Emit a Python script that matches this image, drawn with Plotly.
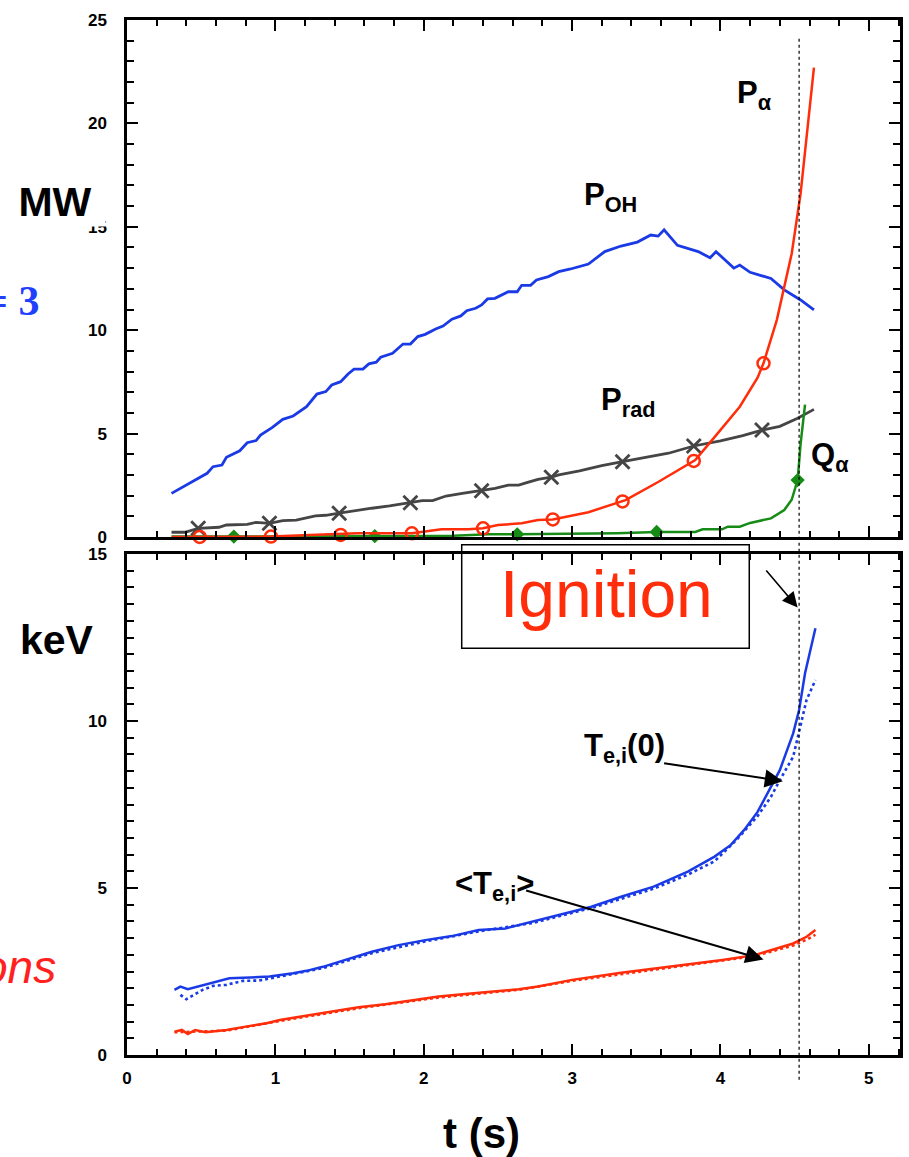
import plotly.graph_objects as go

# ---------------- data ----------------
# Top panel: powers (MW) vs t (s)
t_poh = [0.30,0.42,0.54,0.58,0.64,0.67,0.76,0.81,0.87,0.90,0.98,1.05,1.12,1.21,1.28,1.34,1.38,1.44,1.49,1.53,
         1.59,1.63,1.68,1.71,1.79,1.86,1.91,1.96,2.01,2.08,2.13,2.19,2.25,2.29,2.35,2.39,2.43,2.48,2.57,2.63,
         2.66,2.72,2.76,2.84,2.91,2.99,3.11,3.22,3.33,3.44,3.53,3.58,3.62,3.71,3.85,3.93,3.97,4.00,4.09,4.13,
         4.20,4.34,4.43,4.54,4.63]
p_oh = [2.11,2.60,3.08,3.40,3.48,3.85,4.17,4.56,4.66,4.93,5.30,5.69,5.85,6.30,6.91,7.03,7.35,7.51,7.88,8.12,
        8.12,8.37,8.45,8.69,8.88,9.33,9.33,9.69,9.80,10.06,10.20,10.53,10.69,10.94,11.06,11.22,11.51,11.54,11.86,11.86,
        12.17,12.17,12.43,12.59,12.83,12.96,13.20,13.80,14.07,14.26,14.60,14.55,14.85,14.10,13.80,13.50,13.80,13.60,13.00,13.15,
        12.80,12.50,11.95,11.46,10.98]

t_palpha = [0.30,0.97,1.41,1.56,1.92,2.12,2.30,2.40,2.50,2.66,2.77,2.87,3.11,3.36,3.58,3.83,3.96,4.13,4.25,4.29,
            4.38,4.43,4.48,4.54,4.58,4.63]
p_alpha = [0.0,0.02,0.15,0.18,0.18,0.37,0.37,0.42,0.58,0.66,0.82,0.85,1.2,1.78,2.66,3.72,4.83,6.3,7.7,8.4,
           10.5,12.1,13.7,16.6,19.3,22.7]
t_palpha_mk = [0.49,0.97,1.44,1.92,2.40,2.87,3.34,3.82,4.29]
p_alpha_mk = [0.0,0.02,0.1,0.18,0.42,0.85,1.72,3.68,8.4]

t_prad = [0.30,0.39,0.48,0.62,0.67,0.81,0.87,0.96,1.05,1.14,1.27,1.34,1.43,1.52,1.65,1.77,1.91,1.99,2.06,2.15,
          2.26,2.39,2.48,2.57,2.64,2.70,2.77,2.86,2.91,3.05,3.20,3.34,3.50,3.65,3.82,4.00,4.15,4.28,4.40,4.52,4.63]
p_rad = [0.23,0.23,0.42,0.47,0.58,0.61,0.71,0.66,0.79,0.82,1.02,1.05,1.15,1.26,1.39,1.50,1.66,1.76,1.76,1.98,
         2.11,2.24,2.35,2.51,2.51,2.64,2.79,2.89,3.0,3.2,3.45,3.64,3.85,4.05,4.40,4.65,4.90,5.17,5.35,5.74,6.17]
t_prad_mk = [0.48,0.96,1.43,1.91,2.39,2.86,3.34,3.82,4.28]
p_rad_mk = [0.42,0.66,1.15,1.66,2.24,2.89,3.64,4.40,5.17]

t_qalpha = [0.30,1.0,1.67,2.20,2.44,2.63,3.00,3.30,3.57,3.83,3.88,4.01,4.05,4.13,4.20,4.34,4.43,4.48,4.52,4.54,4.57]
q_alpha = [0.02,0.02,0.04,0.06,0.13,0.13,0.15,0.18,0.24,0.24,0.37,0.37,0.5,0.5,0.68,0.9,1.3,1.8,2.75,4.5,6.4]
t_qalpha_mk = [0.72,1.67,2.63,3.57,4.52]
q_alpha_mk = [0.02,0.04,0.13,0.24,2.75]

# Bottom panel: temperatures (keV) vs t (s)
t_te0 = [0.32,0.36,0.41,0.56,0.69,0.83,0.96,1.12,1.21,1.32,1.47,1.65,1.83,2.01,2.19,2.37,2.55,2.73,2.91,3.13,
         3.33,3.55,3.78,3.96,4.07,4.16,4.25,4.34,4.40,4.49,4.53,4.57,4.64]
te0 = [1.95,2.05,1.97,2.15,2.30,2.32,2.35,2.45,2.52,2.64,2.84,3.09,3.29,3.44,3.56,3.74,3.79,3.99,4.19,4.44,
       4.74,5.04,5.49,5.94,6.29,6.74,7.28,8.03,8.53,9.63,10.33,11.43,12.78]
t_ti0 = [0.36,0.40,0.51,0.58,0.67,0.78,0.89,1.12,1.32,1.65,2.01,2.37,2.73,3.13,3.55,3.78,3.96,4.11,4.25,4.34,
         4.40,4.49,4.54,4.58,4.64]
ti0 = [1.80,1.67,1.95,2.07,2.10,2.22,2.23,2.42,2.60,3.05,3.40,3.70,3.95,4.40,4.98,5.40,5.80,6.45,7.15,7.73,
       8.23,8.93,9.83,10.63,11.23]
t_teavg = [0.32,0.37,0.41,0.46,0.53,0.67,0.80,0.94,1.03,1.21,1.38,1.56,1.74,1.92,2.10,2.28,2.46,2.64,2.77,3.00,
           3.33,3.67,4.00,4.23,4.38,4.49,4.58,4.64]
teavg = [0.70,0.75,0.63,0.75,0.68,0.75,0.85,0.95,1.05,1.18,1.28,1.43,1.52,1.63,1.75,1.83,1.90,1.97,2.05,2.25,
         2.46,2.65,2.84,2.99,3.19,3.34,3.54,3.74]
t_tiavg = [0.32,0.67,1.03,1.56,2.10,2.64,3.00,3.67,4.23,4.49,4.58,4.64]
tiavg = [0.68,0.73,1.02,1.40,1.72,1.95,2.22,2.62,2.96,3.28,3.45,3.60]

t_ignition = 4.53
x_ticks = [0, 1, 2, 3, 4, 5]

# ---------------- styles ----------------
BLUE = "#1a3ae6"
RED = "#ff2d0a"
GRAY = "#454545"
GREEN = "#168c16"
FONT = "Liberation Sans"

fig = go.Figure()

# top panel traces
fig.add_trace(go.Scatter(x=t_poh, y=p_oh, mode="lines", line=dict(color=BLUE, width=2.8),
                         xaxis="x2", yaxis="y2"))
fig.add_trace(go.Scatter(x=t_prad, y=p_rad, mode="lines", line=dict(color=GRAY, width=2.8),
                         xaxis="x2", yaxis="y2"))
fig.add_trace(go.Scatter(x=t_prad_mk, y=p_rad_mk, mode="markers", cliponaxis=False,
                         marker=dict(symbol="x-thin-open", size=14, color=GRAY, line=dict(color=GRAY, width=2.8)),
                         xaxis="x2", yaxis="y2"))
fig.add_trace(go.Scatter(x=t_qalpha, y=q_alpha, mode="lines", line=dict(color=GREEN, width=2.5),
                         xaxis="x2", yaxis="y2"))
fig.add_trace(go.Scatter(x=t_qalpha_mk, y=q_alpha_mk, mode="markers", cliponaxis=False,
                         marker=dict(symbol="diamond", size=11, color=GREEN),
                         xaxis="x2", yaxis="y2"))
fig.add_trace(go.Scatter(x=t_palpha, y=p_alpha, mode="lines", line=dict(color=RED, width=2.5),
                         xaxis="x2", yaxis="y2"))
fig.add_trace(go.Scatter(x=t_palpha_mk, y=p_alpha_mk, mode="markers", cliponaxis=False,
                         marker=dict(symbol="circle-open", size=12, color=RED, line=dict(color=RED, width=2.5)),
                         xaxis="x2", yaxis="y2"))

# bottom panel traces
fig.add_trace(go.Scatter(x=t_tiavg, y=tiavg, mode="lines", line=dict(color=RED, width=2.5, dash="dot"),
                         xaxis="x", yaxis="y"))
fig.add_trace(go.Scatter(x=t_teavg, y=teavg, mode="lines", line=dict(color=RED, width=2.5),
                         xaxis="x", yaxis="y"))
fig.add_trace(go.Scatter(x=t_ti0, y=ti0, mode="lines", line=dict(color=BLUE, width=2.6, dash="dot"),
                         xaxis="x", yaxis="y"))
fig.add_trace(go.Scatter(x=t_te0, y=te0, mode="lines", line=dict(color=BLUE, width=2.5),
                         xaxis="x", yaxis="y"))

axis_common = dict(
    showline=True, linewidth=2.5, linecolor="black", mirror="ticks",
    ticks="inside", ticklen=11, tickwidth=2, tickcolor="black",
    showgrid=False, zeroline=False,
    tickfont=dict(family=FONT, size=17, color="black", weight="bold"),
)

fig.update_layout(
    width=909, height=1157,
    margin=dict(l=127, r=6, t=20, b=102),
    paper_bgcolor="white", plot_bgcolor="white",
    showlegend=False,
    font=dict(family=FONT, color="black"),
    xaxis=dict(domain=[0, 1], anchor="y", range=[0, 5.21], tickvals=x_ticks,
               minor=dict(dtick=0.2, ticks="inside", ticklen=6, tickwidth=1.5, tickcolor="black"),
               ticklabelstandoff=6, **axis_common),
    yaxis=dict(domain=[0, 0.484], anchor="x", range=[0, 15], dtick=5,
               minor=dict(dtick=0.5, ticks="inside", ticklen=7, tickwidth=1.5, tickcolor="black"),
               ticklabelstandoff=14, **axis_common),
    xaxis2=dict(domain=[0, 1], anchor="y2", range=[0, 5.21], tickvals=x_ticks, showticklabels=False,
                minor=dict(dtick=0.2, ticks="inside", ticklen=6, tickwidth=1.5, tickcolor="black"),
                **axis_common),
    yaxis2=dict(domain=[0.5005, 1], anchor="x2", range=[0, 25], dtick=5,
                minor=dict(dtick=1, ticks="inside", ticklen=7, tickwidth=1.5, tickcolor="black"),
                ticklabelstandoff=14, **axis_common),
)

# ignition dotted line across both panels
fig.add_shape(type="line", xref="x", yref="paper", x0=t_ignition, x1=t_ignition, y0=-0.024, y1=0.983,
              line=dict(color="black", width=1.2, dash="dot"), layer="above")
# Ignition box
fig.add_shape(type="rect", xref="paper", yref="paper", x0=0.433, x1=0.805, y0=0.393, y1=0.493,
              line=dict(color="black", width=1.5), fillcolor="rgba(0,0,0,0)", layer="above")

ann = []
lab_font = dict(family=FONT, size=31, color="black", weight="bold")
C = dict(showarrow=False, xanchor="center", yanchor="middle")
ann.append(dict(x=4.23, y=21.37, xref="x2", yref="y2", text="P<sub>α</sub>", font=lab_font, **C))
ann.append(dict(x=3.26, y=16.44, xref="x2", yref="y2", text="P<sub>OH</sub>", font=lab_font, **C))
ann.append(dict(x=3.38, y=6.53, xref="x2", yref="y2", text="P<sub>rad</sub>", font=lab_font, **C))
ann.append(dict(x=4.74, y=3.87, xref="x2", yref="y2", text="Q<sub>α</sub>", font=lab_font, **C))

ann.append(dict(x=3.35, y=9.19, xref="x", yref="y", text="T<sub>e,i</sub>(0)", font=lab_font, **C))
ann.append(dict(x=2.48, y=5.06, xref="x", yref="y", text="&lt;T<sub>e,i</sub>&gt;", font=lab_font, **C))
# arrows
arrow_style = dict(text="", showarrow=True, arrowhead=2, arrowsize=1.8, arrowwidth=2, arrowcolor="black",
                   xref="x", yref="y", axref="x", ayref="y")
ann.append(dict(x=4.42, y=8.2, ax=3.61, ay=8.74, **arrow_style))
ann.append(dict(x=4.29, y=2.86, ax=2.68, ay=4.94, **arrow_style))
ann.append(dict(x=4.52, y=13.4, ax=4.30, ay=14.55, **dict(arrow_style, arrowwidth=1.6, arrowsize=1.9)))

ann.append(dict(x=0.62, y=0.4454, xref="paper", yref="paper", text="Ignition",
                font=dict(family=FONT, size=66, color=RED), **C))

ann.append(dict(x=-0.0928, y=0.824, xref="paper", yref="paper", text="MW", width=98,
                bgcolor="white", font=dict(family=FONT, size=41, color="black", weight="bold"), **C))
ann.append(dict(x=-0.0902, y=0.401, xref="paper", yref="paper", text="keV",
                font=dict(family=FONT, size=41, color="black", weight="bold"), **C))
ann.append(dict(x=-0.1108, y=0.7285, xref="paper", yref="paper", text="= 3", showarrow=False,
                xanchor="right", yanchor="middle",
                font=dict(family="Liberation Serif", size=42, color="#1f40ff", weight="bold")))
ann.append(dict(x=-0.0889, y=0.085, xref="paper", yref="paper", text="<i>ons</i>", showarrow=False,
                xanchor="right", yanchor="middle", font=dict(family=FONT, size=46, color="#ff2020")))
ann.append(dict(x=0.459, y=-0.0754, xref="paper", yref="paper", text="t (s)",
                font=dict(family=FONT, size=42, color="black", weight="bold"), **C))

fig.update_layout(annotations=ann)

fig.write_html("out.html", config={"displayModeBar": False},
               post_script="document.body.style.margin='0px';")
